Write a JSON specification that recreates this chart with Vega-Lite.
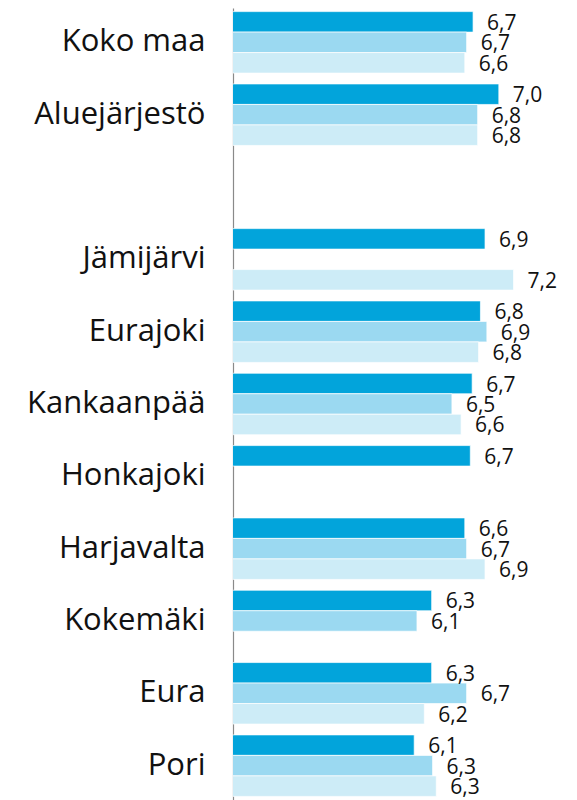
{
  "$schema": "https://vega.github.io/schema/vega-lite/v6.json",
  "width": 344,
  "height": 792,
  "autosize": "none",
  "padding": {"left": 233, "top": 8, "right": 0, "bottom": 0},
  "background": "white",
  "config": {
    "view": {"stroke": null},
    "locale": {"number": {"decimal": ",", "thousands": "\u00a0", "grouping": [3], "currency": ["", "\u00a0€"]}}
  },
  "data": {
    "values": [
      {"alue": "Koko maa", "sarja": "Sarja 1", "arvo": 6.73},
      {"alue": "Koko maa", "sarja": "Sarja 2", "arvo": 6.66},
      {"alue": "Koko maa", "sarja": "Sarja 3", "arvo": 6.64},
      {"alue": "Aluejärjestö", "sarja": "Sarja 1", "arvo": 7.01},
      {"alue": "Aluejärjestö", "sarja": "Sarja 2", "arvo": 6.78},
      {"alue": "Aluejärjestö", "sarja": "Sarja 3", "arvo": 6.78},
      {"alue": "Jämijärvi", "sarja": "Sarja 1", "arvo": 6.86},
      {"alue": "Jämijärvi", "sarja": "Sarja 3", "arvo": 7.17},
      {"alue": "Eurajoki", "sarja": "Sarja 1", "arvo": 6.81},
      {"alue": "Eurajoki", "sarja": "Sarja 2", "arvo": 6.88},
      {"alue": "Eurajoki", "sarja": "Sarja 3", "arvo": 6.79},
      {"alue": "Kankaanpää", "sarja": "Sarja 1", "arvo": 6.72},
      {"alue": "Kankaanpää", "sarja": "Sarja 2", "arvo": 6.5},
      {"alue": "Kankaanpää", "sarja": "Sarja 3", "arvo": 6.6},
      {"alue": "Honkajoki", "sarja": "Sarja 1", "arvo": 6.7},
      {"alue": "Harjavalta", "sarja": "Sarja 1", "arvo": 6.64},
      {"alue": "Harjavalta", "sarja": "Sarja 2", "arvo": 6.66},
      {"alue": "Harjavalta", "sarja": "Sarja 3", "arvo": 6.86},
      {"alue": "Kokemäki", "sarja": "Sarja 1", "arvo": 6.28},
      {"alue": "Kokemäki", "sarja": "Sarja 2", "arvo": 6.12},
      {"alue": "Eura", "sarja": "Sarja 1", "arvo": 6.28},
      {"alue": "Eura", "sarja": "Sarja 2", "arvo": 6.66},
      {"alue": "Eura", "sarja": "Sarja 3", "arvo": 6.2},
      {"alue": "Pori", "sarja": "Sarja 1", "arvo": 6.09},
      {"alue": "Pori", "sarja": "Sarja 2", "arvo": 6.29},
      {"alue": "Pori", "sarja": "Sarja 3", "arvo": 6.33}
    ]
  },
  "encoding": {
    "y": {
      "field": "alue",
      "type": "nominal",
      "sort": null,
      "scale": {
        "domain": ["Koko maa", "Aluejärjestö", " ", "Jämijärvi", "Eurajoki", "Kankaanpää", "Honkajoki", "Harjavalta", "Kokemäki", "Eura", "Pori"],
        "paddingInner": 0.15,
        "paddingOuter": 0.05
      },
      "axis": {
        "title": null,
        "ticks": false,
        "grid": false,
        "domain": true,
        "domainColor": "#8a8a8a",
        "domainWidth": 1.2,
        "labelFont": "Open Sans",
        "labelFontSize": 31,
        "labelColor": "#111111",
        "labelPadding": 28,
        "labelLimit": 300
      }
    },
    "yOffset": {
      "field": "sarja",
      "type": "nominal",
      "scale": {"domain": ["Sarja 1", "Sarja 2", "Sarja 3"], "paddingInner": 0, "paddingOuter": 0}
    },
    "x": {
      "field": "arvo",
      "type": "quantitative",
      "scale": {"domain": [4.12, 7.86], "zero": false, "nice": false},
      "axis": null
    }
  },
  "layer": [
    {
      "mark": {"type": "bar", "stroke": "white", "strokeWidth": 0.7, "clip": true},
      "encoding": {
        "color": {
          "field": "sarja",
          "type": "nominal",
          "scale": {"domain": ["Sarja 1", "Sarja 2", "Sarja 3"], "range": ["#02A4DB", "#9BD9F1", "#CDECF7"]},
          "legend": null
        }
      }
    },
    {
      "mark": {"type": "text", "align": "left", "baseline": "middle", "dx": 14, "dy": 2, "font": "Open Sans", "fontSize": 21, "color": "#111111"},
      "encoding": {
        "text": {"field": "arvo", "type": "quantitative", "format": ".1f"}
      }
    }
  ]
}
